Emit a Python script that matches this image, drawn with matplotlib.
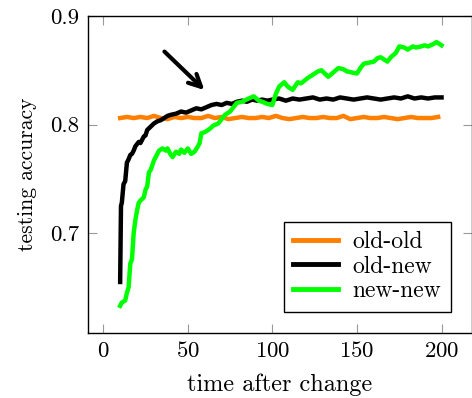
import numpy as np
import matplotlib
matplotlib.use('Agg')
import matplotlib.pyplot as plt

plt.rcParams['font.family'] = 'serif'
plt.rcParams['font.serif'] = ['cmr10']
plt.rcParams['axes.formatter.use_mathtext'] = True
plt.rcParams['mathtext.fontset'] = 'cm'

# data
old_old_x = np.arange(10, 201, 4)
old_old_y = [0.806, 0.807, 0.806, 0.807, 0.806, 0.808, 0.806, 0.805, 0.807, 0.806,
             0.807, 0.806, 0.806, 0.808, 0.806, 0.807, 0.805, 0.806, 0.807, 0.806,
             0.806, 0.807, 0.806, 0.808, 0.806, 0.805, 0.806, 0.807, 0.806, 0.806,
             0.807, 0.806, 0.806, 0.808, 0.805, 0.806, 0.807, 0.806, 0.806, 0.807,
             0.806, 0.805, 0.806, 0.807, 0.806, 0.806, 0.806, 0.807]

old_new_x = [10, 10.5, 11, 12, 13, 14, 15, 16, 17, 18, 19, 20, 21, 22, 24, 25, 26, 28,
             30, 32, 34, 36, 38, 40, 43, 46, 49, 52, 55, 58, 61, 64, 67, 70, 73, 76,
             79, 82, 85, 88, 91, 94, 97, 100, 104, 108, 112, 116, 120, 124, 128, 132,
             136, 140, 144, 148, 152, 156, 160, 164, 168, 172, 176, 180, 184, 188,
             192, 196, 200]
old_new_y = [0.655, 0.725, 0.728, 0.745, 0.748, 0.765, 0.768, 0.772, 0.773, 0.776,
             0.780, 0.782, 0.784, 0.783, 0.789, 0.790, 0.795, 0.798, 0.801, 0.803,
             0.804, 0.806, 0.808, 0.809, 0.810, 0.812, 0.811, 0.813, 0.815, 0.814,
             0.816, 0.818, 0.819, 0.818, 0.820, 0.819, 0.821, 0.822, 0.821, 0.823,
             0.822, 0.823, 0.822, 0.823, 0.824, 0.822, 0.824, 0.823, 0.824, 0.825,
             0.823, 0.824, 0.823, 0.825, 0.824, 0.823, 0.824, 0.825, 0.824, 0.823,
             0.824, 0.825, 0.824, 0.826, 0.824, 0.825, 0.824, 0.825, 0.825]

new_new_x = [10, 11, 13, 14, 15, 16, 17, 18, 19, 20, 21, 22, 24, 25, 26, 27, 28, 30,
             31, 33, 35, 37, 38, 40, 41, 43, 45, 46, 48, 50, 52, 54, 56, 57, 58, 60,
             63, 65, 68, 70, 72, 75, 79, 82, 86, 89, 92, 94, 97, 100, 102, 104, 107,
             109, 112, 115, 117, 121, 124, 127, 129, 131, 133, 136, 139, 142, 144,
             147, 150, 152, 154, 157, 160, 162, 164, 166, 168, 170, 173, 175, 178,
             180, 183, 185, 188, 190, 192, 195, 197, 200]
new_new_y = [0.633, 0.636, 0.638, 0.645, 0.650, 0.672, 0.676, 0.700, 0.712, 0.721,
             0.728, 0.730, 0.733, 0.740, 0.743, 0.756, 0.758, 0.767, 0.770, 0.776,
             0.778, 0.776, 0.778, 0.772, 0.770, 0.775, 0.773, 0.777, 0.774, 0.778,
             0.773, 0.775, 0.780, 0.783, 0.792, 0.793, 0.796, 0.799, 0.801, 0.805,
             0.809, 0.812, 0.820, 0.821, 0.824, 0.826, 0.822, 0.821, 0.819, 0.818,
             0.828, 0.835, 0.839, 0.835, 0.832, 0.839, 0.838, 0.843, 0.846, 0.849,
             0.850, 0.847, 0.844, 0.848, 0.852, 0.851, 0.849, 0.848, 0.847, 0.852,
             0.856, 0.857, 0.858, 0.861, 0.862, 0.860, 0.858, 0.862, 0.866, 0.872,
             0.871, 0.869, 0.872, 0.871, 0.872, 0.873, 0.872, 0.874, 0.876, 0.873]

fig = plt.figure(figsize=(4.72, 3.98), dpi=100)
ax = fig.add_axes([88 / 472, 65 / 398, 384 / 472, 317 / 398])

ax.plot(old_old_x, old_old_y, color='#ff7f00', lw=3.2, label='old-old')
ax.plot(old_new_x, old_new_y, color='black', lw=3.2, label='old-new')
ax.plot(new_new_x, new_new_y, color='#00ff00', lw=3.2, label='new-new')

ax.annotate('', xy=(61, 0.830), xytext=(35, 0.869),
            arrowprops=dict(arrowstyle='->', lw=3, color='black', mutation_scale=22))

ax.set_xlim(-9, 218)
ax.set_ylim(0.608, 0.9)
ax.set_xticks([0, 50, 100, 150, 200])
ax.set_yticks([0.7, 0.8, 0.9])
ax.set_yticklabels(['0.7', '0.8', '0.9'])
ax.tick_params(direction='in', length=6.5, width=0.8, color='#999999',
               top=True, right=True, labelsize=16.5, pad=6)
for s in ax.spines.values():
    s.set_linewidth(1.0)

ax.set_xlabel('time after change', fontsize=17.5, labelpad=9)
ax.set_ylabel('testing accuracy', fontsize=15.5, labelpad=10)

leg = ax.legend(loc='lower right', bbox_to_anchor=(0.975, 0.03), fontsize=17,
                frameon=True, fancybox=False, edgecolor='black', framealpha=1,
                handlelength=1.9, handletextpad=0.6, labelspacing=0.1,
                borderpad=0.4)
leg.get_frame().set_linewidth(1.0)
for line in leg.get_lines():
    line.set_linewidth(3.5)

fig.savefig('out.png', dpi=100)
